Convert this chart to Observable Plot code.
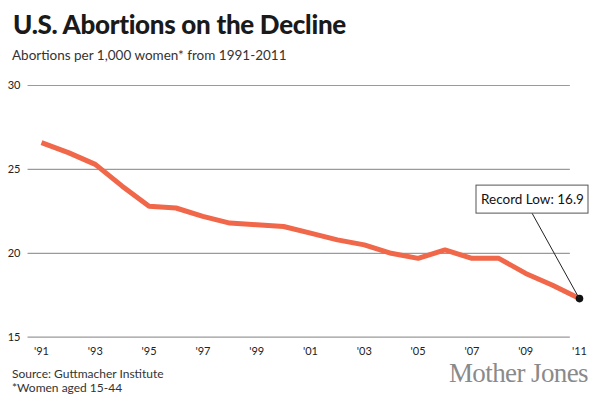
<!DOCTYPE html>
<html>
<head>
<meta charset="utf-8">
<script src="https://cdn.jsdelivr.net/npm/d3@7"></script>
<script src="https://cdn.jsdelivr.net/npm/@observablehq/plot@0.6"></script>
<style>
  html, body { margin: 0; padding: 0; background: #fff; }
  #wrap { position: relative; width: 600px; height: 400px; overflow: hidden; font-family: Lato, "Open Sans", sans-serif; }
  #title { position: absolute; left: 13px; top: 8px; font-size: 26px; font-weight: 900; color: #1a1a1a; letter-spacing: -0.3px; white-space: nowrap; }
  #subtitle { position: absolute; left: 12px; top: 47px; font-size: 13.5px; color: #333; white-space: nowrap; }
  #chart { position: absolute; left: 0; top: 70px; }
  #source { position: absolute; left: 12px; top: 367px; font-size: 12px; line-height: 14px; color: #333; white-space: nowrap; }
  #brand { position: absolute; right: 12px; top: 358px; font-family: "Liberation Serif", "DejaVu Serif", serif; font-size: 27px; color: #8a8a8a; letter-spacing: -0.6px; white-space: nowrap; }
</style>
</head>
<body>
<div id="wrap">
  <div id="title">U.S. Abortions on the Decline</div>
  <div id="subtitle">Abortions per 1,000 women* from 1991-2011</div>
  <div id="chart"></div>
  <div id="source">Source: Guttmacher Institute<br>*Women aged 15-44</div>
  <div id="brand">Mother Jones</div>
</div>
<script>
const years = [1991,1992,1993,1994,1995,1996,1997,1998,1999,2000,2001,2002,2003,2004,2005,2006,2007,2008,2009,2010,2011];
const rates = [26.6,26.0,25.3,24.0,22.8,22.7,22.2,21.8,21.7,21.6,21.2,20.8,20.5,20.0,19.7,20.2,19.7,19.7,18.8,18.1,17.3];
const yTicks = [15,20,25,30];
const xTicks = [1991,1993,1995,1997,1999,2001,2003,2005,2007,2009,2011];
const xTickLabels = ["'91","'93","'95","'97","'99","'01","'03","'05","'07","'09","'11"];
const annotationText = "Record Low: 16.9";
const gridStart = 1990.5, gridEnd = 2010.66;

const data = years.map((y, i) => ({year: y, rate: rates[i]}));
const last = data[data.length - 1];

const annoDx = -47, annoDy = -99, boxW = 112, boxH = 28;

const chart = Plot.plot({
  width: 600,
  height: 290,
  marginTop: 15,
  marginBottom: 23.3,
  marginLeft: 41,
  marginRight: 21,
  style: {fontFamily: "Lato, 'Open Sans', sans-serif", fontSize: "11px", color: "#222", background: "transparent"},
  x: {domain: [1991, 2011], ticks: xTicks, tickFormat: d => xTickLabels[xTicks.indexOf(d)], tickSize: 0, tickPadding: 10, label: null},
  y: {domain: [15, 30], ticks: yTicks, tickSize: 0, tickPadding: 21, label: null},
  marks: [
    Plot.ruleY(yTicks, {x1: gridStart, x2: gridEnd, stroke: "#9a9a9a", strokeWidth: 1.2}),
    Plot.line(data, {x: "year", y: "rate", stroke: "#f0674a", strokeWidth: 5, strokeLinejoin: "miter", strokeLinecap: "butt"}),
    Plot.dot([last], {x: "year", y: "rate", r: 3.8, fill: "#111"}),
    Plot.text([last], {x: "year", y: "rate", text: () => annotationText, dx: annoDx, dy: annoDy, fontSize: 13.5, fill: "#111"})
  ]
});
document.getElementById("chart").appendChild(chart);

// box and connector for the annotation, positioned from the library's scales
const px = chart.scale("x").apply(last.year), py = chart.scale("y").apply(last.rate);
const cx = px + annoDx, cy = py + annoDy;
const svg = d3.select(chart);
const textG = svg.selectAll("g").filter(function() { return d3.select(this).select("text").size() && d3.select(this).select("text").text() === annotationText; }).node();
const before = textG || null;
svg.insert("line", () => before)
  .attr("x1", cx).attr("y1", cy + boxH / 2).attr("x2", px).attr("y2", py)
  .attr("stroke", "#222").attr("stroke-width", 1);
svg.insert("rect", () => before)
  .attr("x", cx - boxW / 2).attr("y", cy - boxH / 2).attr("width", boxW).attr("height", boxH)
  .attr("fill", "#fff").attr("stroke", "#555").attr("stroke-width", 1);
</script>
</body>
</html>
